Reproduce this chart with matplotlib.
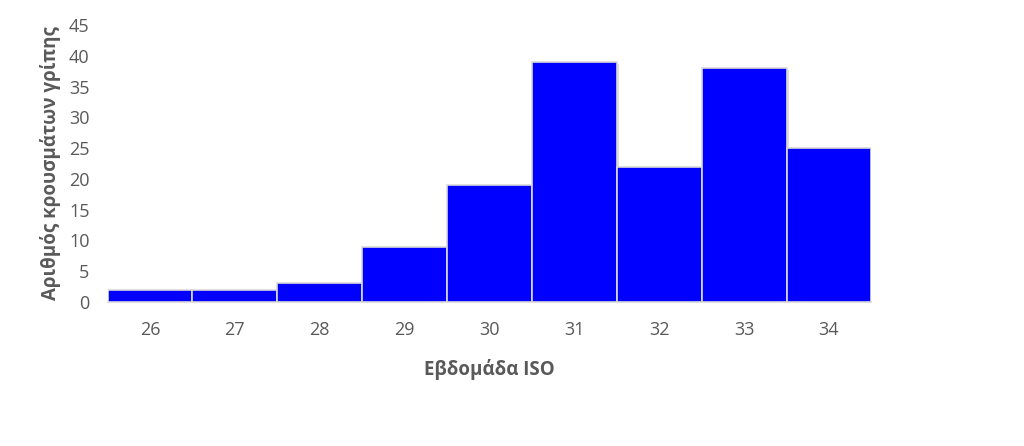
import matplotlib
matplotlib.use("Agg")
import matplotlib.pyplot as plt
import matplotlib.patheffects as pe

weeks = ["26", "27", "28", "29", "30", "31", "32", "33", "34"]
cases = [2, 2, 3, 9, 19, 39, 22, 38, 25]
yticks = [0, 5, 10, 15, 20, 25, 30, 35, 40, 45]

plt.rcParams['font.family'] = ['Open Sans', 'DejaVu Sans']
gray = "#595959"

fig = plt.figure(figsize=(10.24, 4.46), dpi=100)
ax = fig.add_axes([0.105, 0.323, 0.746, 0.621])

x = list(range(len(weeks)))
bars = ax.bar(x, cases, width=1.0, color="#0000FF", edgecolor="#D9D9D9", linewidth=1.2, zorder=3)
for b in bars:
    b.set_path_effects([pe.SimplePatchShadow(offset=(1.5, -1.5), shadow_rgbFace="#BFBFBF", alpha=0.5), pe.Normal()])

ax.set_xlim(-0.5, len(weeks) - 0.5)
ax.set_ylim(0, 45)
ax.set_yticks(yticks)
ax.set_xticks(x)
ax.set_xticklabels(weeks)
ax.tick_params(axis="both", length=0, labelsize=13, colors=gray)
ax.tick_params(axis="x", pad=14)
ax.tick_params(axis="y", pad=13)

for s in ["top", "right", "left"]:
    ax.spines[s].set_visible(False)
ax.spines["bottom"].set_color("#D9D9D9")
ax.spines["bottom"].set_linewidth(1.2)

ax.set_xlabel("Εβδομάδα ISO", fontsize=13.5, fontweight="bold", color=gray, labelpad=14)
ax.set_ylabel("Αριθμός κρουσμάτων γρίπης", fontsize=13.5, fontweight="bold", color=gray, labelpad=6)

fig.savefig("out.png", dpi=100, facecolor="white")
